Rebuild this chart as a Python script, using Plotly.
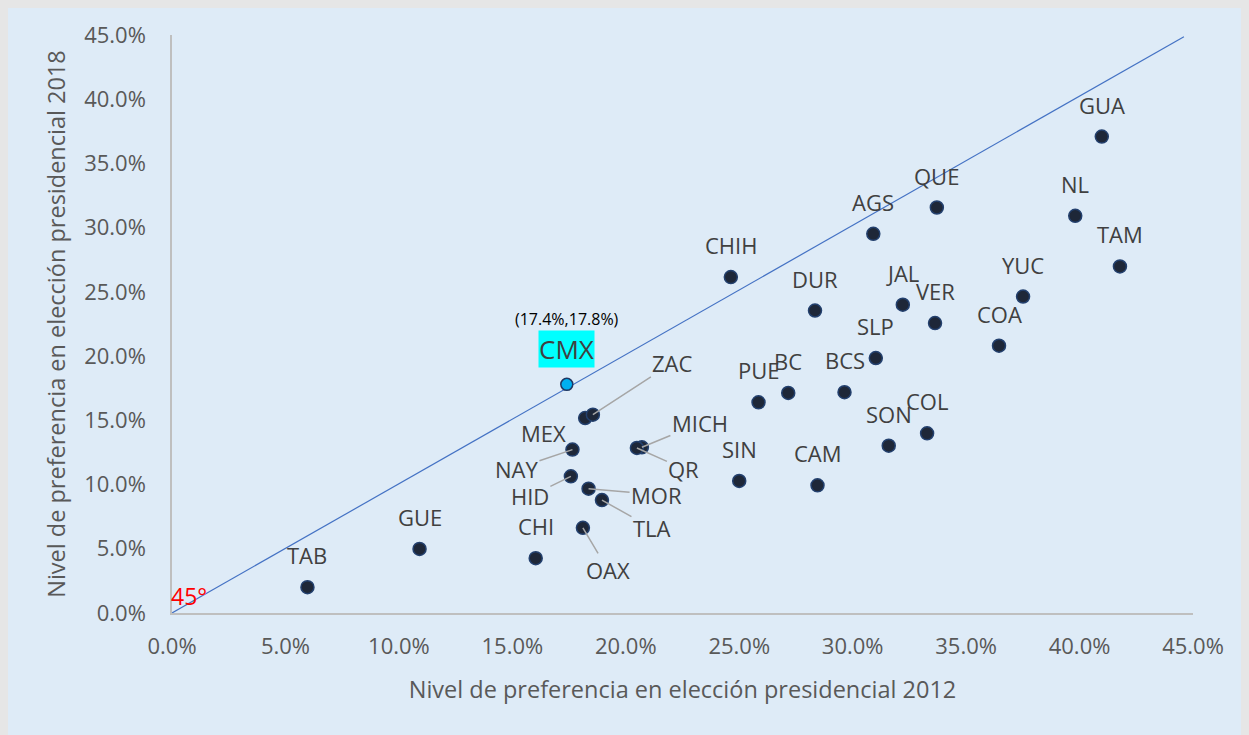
import plotly.graph_objects as go

# ---- data (shares in %) ----
states = ["TAB", "GUE", "CHI", "OAX", "TLA", "MOR", "HID", "NAY", "MEX", "ZAC",
          "MICH", "QR", "SIN", "CAM", "PUE", "BC", "BCS", "SON", "COL", "SLP",
          "COA", "VER", "JAL", "YUC", "DUR", "CHIH", "AGS", "QUE", "NL", "TAM", "GUA"]
pref_2012 = [5.97, 10.91, 16.03, 18.11, 18.95, 18.36, 17.58, 17.65, 18.21, 18.55,
             20.71, 20.49, 25.00, 28.45, 25.85, 27.16, 29.64, 31.59, 33.28, 31.02,
             36.45, 33.63, 32.21, 37.51, 28.34, 24.63, 30.91, 33.71, 39.81, 41.78, 40.98]
pref_2018 = [2.01, 4.99, 4.27, 6.63, 8.79, 9.68, 10.64, 12.72, 15.18, 15.44,
             12.90, 12.85, 10.28, 9.94, 16.40, 17.13, 17.19, 13.03, 13.99, 19.85,
             20.81, 22.57, 24.00, 24.64, 23.55, 26.15, 29.52, 31.57, 30.92, 26.98, 37.09]
cmx_name = "CMX"
cmx_2012 = 17.4
cmx_2018 = 17.8
diag_x = [0.0, 44.6]
diag_y = [0.0, 44.87]
x_ticks = [0, 5, 10, 15, 20, 25, 30, 35, 40, 45]
y_ticks = [0, 5, 10, 15, 20, 25, 30, 35, 40, 45]
x_title = "Nivel de preferencia en elección presidencial 2012"
y_title = "Nivel de preferencia en elección presidencial 2018"

xs = [v / 100 for v in pref_2012]
ys = [v / 100 for v in pref_2018]

# ---- label placement (pixel offsets, y up) ----
leader_offsets = {
    "ZAC": (80, 52), "NAY": (-56, -19), "HID": (-41, -20), "MOR": (68, -6),
    "TLA": (50, -28), "OAX": (25, -42), "MICH": (58, 24), "QR": (47, -21),
}
free_offsets = {"MEX": (-42, -15)}

FONT = "Open Sans, Segoe UI, sans-serif"
LABEL_COLOR = "#404040"
TICK_COLOR = "#595959"
BG = "#DEEBF7"
LBL = 22

fig = go.Figure()

fig.add_trace(go.Scatter(
    x=[v / 100 for v in diag_x], y=[v / 100 for v in diag_y], mode="lines",
    line=dict(color="#4472C4", width=1.2), hoverinfo="skip", showlegend=False))

fig.add_trace(go.Scatter(
    x=xs, y=ys, mode="markers", text=states,
    marker=dict(size=13, color="#1E2738", line=dict(color="#23406E", width=1.5)),
    showlegend=False))

fig.add_trace(go.Scatter(
    x=[cmx_2012 / 100], y=[cmx_2018 / 100], mode="markers", text=[cmx_name],
    marker=dict(size=12, color="#00B0F0", line=dict(color="#1F3864", width=1.5)),
    showlegend=False))

annotations = []
for s, x, y in zip(states, xs, ys):
    if s in leader_offsets:
        dx, dy = leader_offsets[s]
        annotations.append(dict(x=x, y=y, text=s, showarrow=True, ax=dx, ay=-dy,
                                arrowhead=0, arrowwidth=1.5, arrowcolor="#A6A6A6",
                                standoff=0, font=dict(size=LBL, color=LABEL_COLOR, family=FONT)))
    elif s in free_offsets:
        dx, dy = free_offsets[s]
        annotations.append(dict(x=x, y=y, text=s, showarrow=False, xshift=dx, yshift=dy,
                                font=dict(size=LBL, color=LABEL_COLOR, family=FONT)))
    else:
        annotations.append(dict(x=x, y=y, text=s, showarrow=False, yshift=32,
                                font=dict(size=LBL, color=LABEL_COLOR, family=FONT)))

annotations.append(dict(x=cmx_2012 / 100, y=cmx_2018 / 100, text=cmx_name, showarrow=False,
                        yshift=35, bgcolor="#00FFFF", borderpad=0,
                        font=dict(size=26, color=LABEL_COLOR, family=FONT)))
annotations.append(dict(x=cmx_2012 / 100, y=cmx_2018 / 100,
                        text=f"({cmx_2012:.1f}%,{cmx_2018:.1f}%)", showarrow=False,
                        yshift=65, font=dict(size=16, color="#000000", family=FONT)))
annotations.append(dict(x=0, y=0, text="45°", showarrow=False, xanchor="left",
                        yanchor="bottom", xshift=-3, yshift=-1,
                        font=dict(size=23, color="#FF0000", family=FONT)))

# page has an 8px body margin; figure sized to fit the window
W, H = 1241, 727
ML, MR, MT, MB = 164, 56, 27, 122

fig.update_layout(
    width=W, height=H, margin=dict(l=ML, r=MR, t=MT, b=MB),
    paper_bgcolor=BG, plot_bgcolor=BG,
    font=dict(family=FONT, color=TICK_COLOR),
    annotations=annotations,
    xaxis=dict(range=[0, 0.45], tickvals=[v / 100 for v in x_ticks], tickformat=".1%",
               showgrid=False, zeroline=False, showline=True, linecolor="#BFBFBF",
               linewidth=1.5, ticks="", ticklabelstandoff=13,
               tickfont=dict(size=22, color=TICK_COLOR),
               title=dict(text=x_title, standoff=22, font=dict(size=23.5, color=TICK_COLOR))),
    yaxis=dict(range=[0, 0.45], tickvals=[v / 100 for v in y_ticks], tickformat=".1%",
               showgrid=False, zeroline=False, showline=True, linecolor="#BFBFBF",
               linewidth=1.5, ticks="", ticklabelstandoff=20,
               tickfont=dict(size=22, color=TICK_COLOR),
               title=dict(text=y_title, standoff=12, font=dict(size=23.5, color=TICK_COLOR))),
)

fig.write_html("out.html",
               post_script="document.body.style.background='#E6E6E6';")
